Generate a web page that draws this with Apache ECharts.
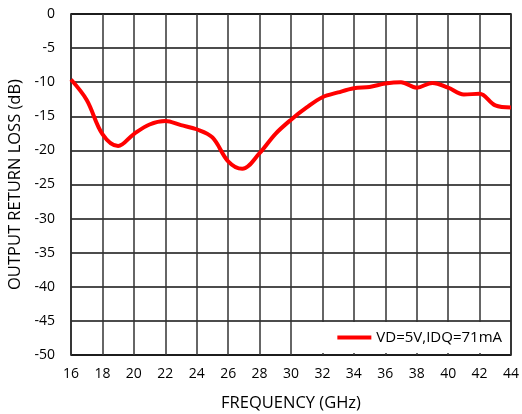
<!DOCTYPE html>
<html>
<head>
<meta charset="utf-8">
<script src="https://cdn.jsdelivr.net/npm/echarts@6/dist/echarts.min.js"></script>
<style>html,body{margin:0;padding:0;background:#fff}#c{width:522px;height:414px}</style>
</head>
<body>
<div id="c"></div>
<script>
var freq = [16, 17, 18, 19, 20, 21, 22, 23, 24, 25, 26, 26.9, 28, 29, 30, 31, 32, 33, 34, 35, 36, 37, 38, 39, 40, 41, 42, 43, 44];
var returnLoss = [-9.6, -12.6, -17.6, -19.35, -17.6, -16.2, -15.7, -16.3, -16.9, -18.1, -21.6, -22.7, -20.4, -17.6, -15.5, -13.7, -12.2, -11.5, -10.9, -10.7, -10.2, -10.0, -10.8, -10.1, -10.8, -11.8, -11.7, -13.4, -13.7];
var seriesName = 'VD=5V,IDQ=71mA';

var pts = freq.map(function (f, i) { return [f, returnLoss[i]]; });
var font = 'Open Sans';
var chart = echarts.init(document.getElementById('c'));
chart.setOption({
  animation: false,
  grid: { left: 71, right: 11, top: 14, bottom: 59, show: true, borderColor: '#000', borderWidth: 1.5, containLabel: false, outerBoundsMode: 'none' },
  xAxis: {
    type: 'value', min: 16, max: 44, interval: 2,
    name: 'FREQUENCY (GHz)', nameLocation: 'middle', nameGap: 40,
    nameTextStyle: { fontFamily: font, fontSize: 16.5, color: '#000' },
    axisLine: { show: false }, axisTick: { show: false },
    axisLabel: { fontFamily: font, fontSize: 14, color: '#000', margin: 12 },
    splitLine: { show: true, lineStyle: { color: '#333', width: 1.5 } }
  },
  yAxis: {
    type: 'value', min: -50, max: 0, interval: 5,
    name: 'OUTPUT RETURN LOSS (dB)', nameLocation: 'middle', nameGap: 45,
    nameTextStyle: { fontFamily: font, fontSize: 16.5, color: '#000' },
    axisLine: { show: false }, axisTick: { show: false },
    axisLabel: { fontFamily: font, fontSize: 14, color: '#000', margin: 16 },
    splitLine: { show: true, lineStyle: { color: '#111', width: 1.5 } }
  },
  legend: {
    right: 12, bottom: 61, backgroundColor: '#fff',
    padding: [8, 8, 8, 17], itemGap: 3,
    icon: 'rect', itemWidth: 34, itemHeight: 4,
    textStyle: { fontFamily: font, fontSize: 15, color: '#000' },
    data: [seriesName]
  },
  series: [{
    name: seriesName, type: 'line', data: pts, smooth: 0.35, showSymbol: false,
    lineStyle: { color: '#ff0000', width: 4 }, itemStyle: { color: '#ff0000' }
  }]
});
</script>
</body>
</html>
